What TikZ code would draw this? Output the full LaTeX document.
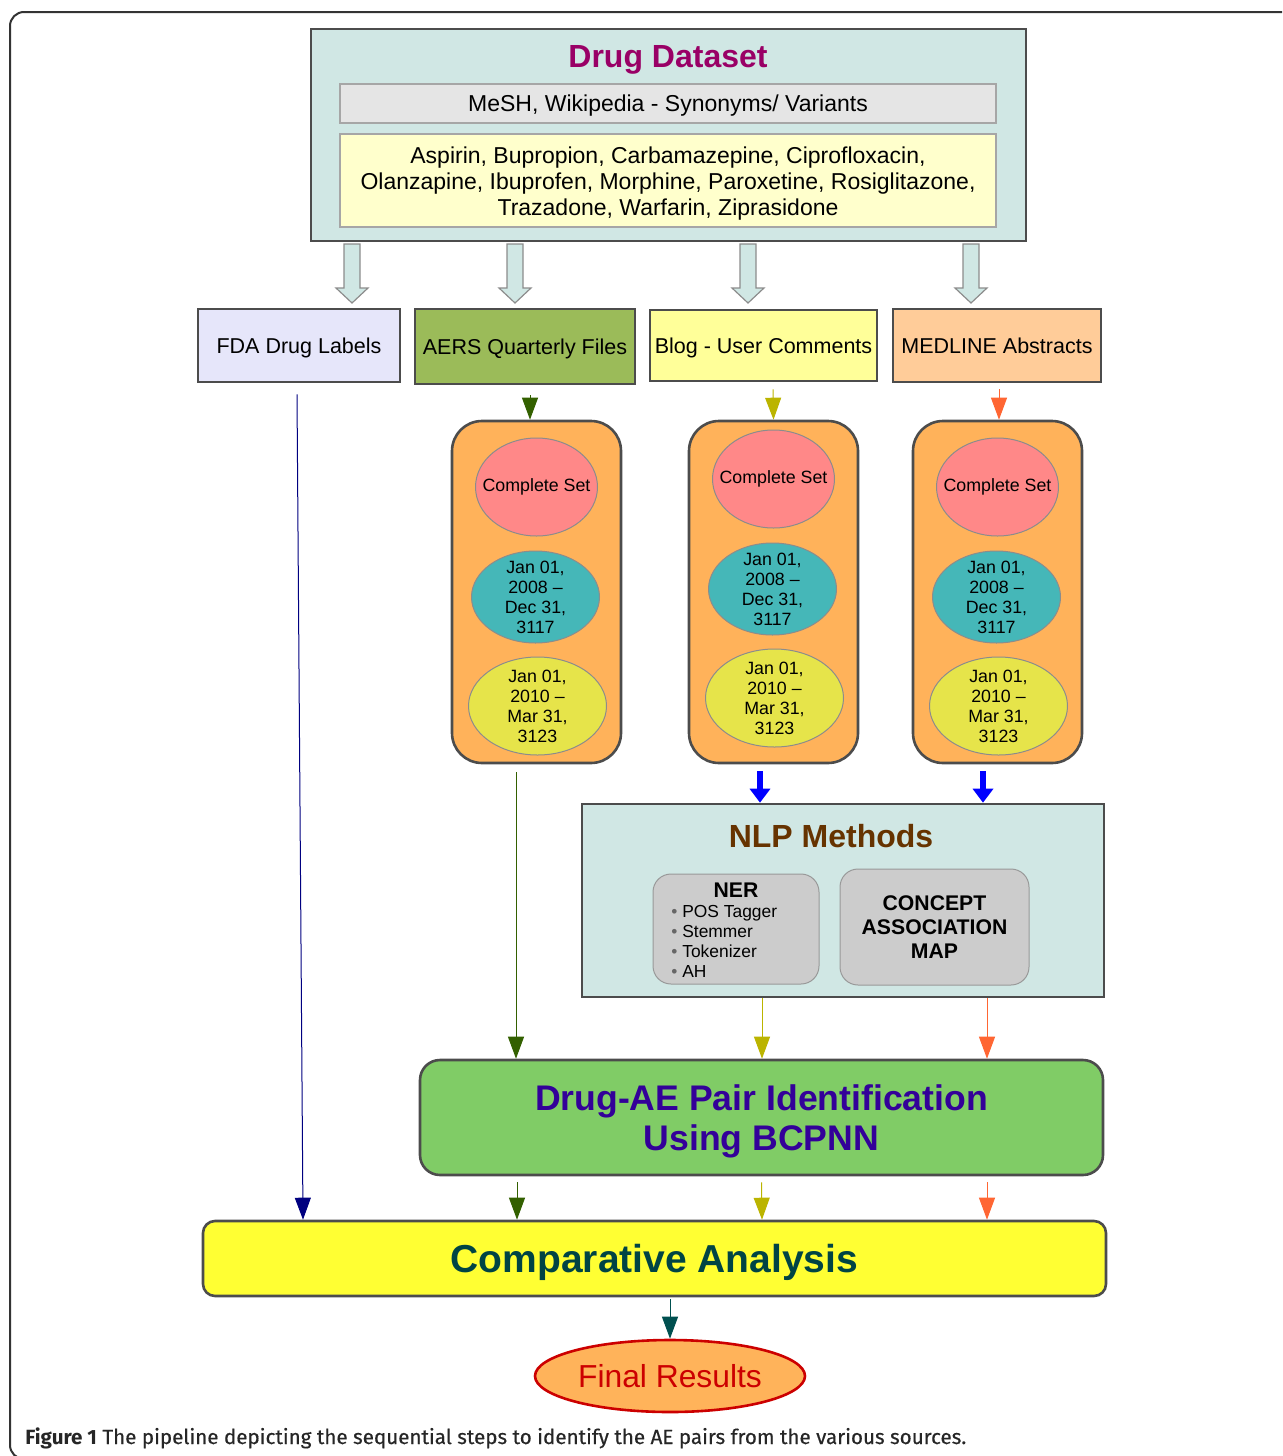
\documentclass[tikz,border=0pt]{standalone}
\usepackage{fontspec}
\setmainfont{Liberation Sans}
\newfontfamily\capfont{Fira Sans}
\newfontfamily\capsemi{Fira Sans}[FakeBold=0.5]
\usetikzlibrary{shapes.geometric,arrows.meta}

\definecolor{dsfill}{RGB}{208,231,228}
\definecolor{dstitle}{RGB}{153,0,102}
\definecolor{listfill}{RGB}{255,255,204}
\definecolor{fdafill}{RGB}{230,230,250}
\definecolor{aersfill}{RGB}{155,187,89}
\definecolor{blogfill}{RGB}{255,255,153}
\definecolor{medfill}{RGB}{255,204,153}
\definecolor{capfill}{RGB}{255,178,90}
\definecolor{setfill}{RGB}{255,136,136}
\definecolor{tealfill}{RGB}{69,183,184}
\definecolor{yelfill}{RGB}{230,228,74}
\definecolor{fdacol}{RGB}{0,0,128}
\definecolor{aerscol}{RGB}{51,96,0}
\definecolor{blogcol}{RGB}{187,180,0}
\definecolor{medcol}{RGB}{255,102,51}
\definecolor{nlptitle}{RGB}{102,51,0}
\definecolor{pairfill}{RGB}{128,204,102}
\definecolor{pairtext}{RGB}{51,0,153}
\definecolor{compfill}{RGB}{255,255,51}
\definecolor{comptext}{RGB}{0,68,68}
\definecolor{rescol}{RGB}{204,0,0}
\definecolor{resfill}{RGB}{255,179,90}
\definecolor{resarrow}{RGB}{0,80,80}

\begin{document}
\begin{tikzpicture}[x=0.5pt,y=-0.5pt,
  box/.style={draw=black!70,line width=1.3pt,inner sep=0pt,align=center},
  src/.style={box,text depth=0pt,font=\fontsize{10.75}{13}\selectfont},
  inbox/.style={draw=black!35,line width=0.6pt,inner sep=0pt,minimum width=328pt,align=center,font=\fontsize{11.5}{13}\selectfont},
  oval/.style={ellipse,draw=black!45,line width=0.5pt,inner sep=0pt},
  datefont/.style={align=center,inner sep=0pt,font=\fontsize{8.9}{10}\selectfont},
  method/.style={draw=black!40,fill=gray!40,line width=0.5pt,rounded corners=9pt},
  blockarr/.style={draw=black!45,fill=dsfill,line width=0.6pt},
  feed/.style={-{Triangle[width=8pt,length=11pt]},line width=0.5pt},
  fat/.style={-{Triangle[width=10pt,length=7pt]},line width=3pt,blue}]

\useasboundingbox (0,0) rectangle (1282,1456);
\begin{scope}
\clip (0,0) rectangle (1282,1456);
\draw[line width=1pt,black!80,rounded corners=7pt] (1300,12) -- (10,12) -- (10,1459) -- (1300,1459);
\end{scope}

\node[box,fill=dsfill,minimum width=357.5pt,minimum height=106pt] (data) at (668.5,135) {};
\node[font=\bfseries\fontsize{16}{18}\selectfont,text=dstitle] (datat) at (668,59.5) {Drug Dataset};
\node[inbox,fill=gray!20,minimum height=19.5pt,text depth=0pt] (syn) at (668,103.5) {MeSH, Wikipedia - Synonyms/ Variants};
\node[inbox,fill=listfill,minimum height=46.5pt] (drugs) at (668,180.5) {};
\node[align=center,inner sep=0pt,font=\fontsize{11.5}{13}\selectfont] (drugst) at (668,183.5)
  {Aspirin, Bupropion, Carbamazepine, Ciprofloxacin,\\Olanzapine, Ibuprofen, Morphine, Paroxetine, Rosiglitazone,\\Trazadone, Warfarin, Ziprasidone};

\foreach \x in {352,515,748,971}
  \draw[blockarr] (\x-8,244) -- (\x+8,244) -- (\x+8,288) -- (\x+16,288) -- (\x,303) -- (\x-16,288) -- (\x-8,288) -- cycle;

\node[src,fill=fdafill,minimum width=101pt,minimum height=36.5pt] (fda) at (299,345.5) {FDA Drug Labels};
\node[src,fill=aersfill,minimum width=110pt,minimum height=37.5pt] (aers) at (525,346.5) {AERS Quarterly Files};
\node[src,fill=blogfill,minimum width=113.5pt,minimum height=35.5pt] (blog) at (763.5,345.5) {Blog - User Comments};
\node[src,fill=medfill,minimum width=104pt,minimum height=36.5pt] (med) at (997,345.5) {MEDLINE Abstracts};

\foreach \n/\x/\y in {a/536.5/487,b/773.5/479,c/997.5/487}{
  \node[box,fill=capfill,rounded corners=15pt,minimum width=84.5pt,minimum height=171pt] (cap\n) at (\x,592) {};
  \node[oval,fill=setfill,minimum width=61pt,minimum height=49pt] (set\n) at (\x,\y) {};
  \node[datefont] (sett\n) at (set\n) {Complete Set};
  \node[oval,fill=tealfill,minimum width=64pt,minimum height=46pt] (early\n) at (\x-1,\y+110) {};
  \node[datefont] (earlyt\n) at (early\n) {Jan 01,\\2008 --\\Dec 31,\\3117};
  \node[oval,fill=yelfill,minimum width=69pt,minimum height=49pt] (late\n) at (\x+1,\y+219) {};
  \node[datefont] (latet\n) at (late\n) {Jan 01,\\2010 --\\Mar 31,\\3123};
}

\draw[feed,aerscol] ([xshift=2.5pt,yshift=-5pt]aers.south) -- ([xshift=-3.25pt]capa.north);
\draw[feed,blogcol] ([xshift=4.75pt,yshift=-3.5pt]blog.south) -- (capb.north);
\draw[feed,medcol] ([xshift=1pt,yshift=-3pt]med.south) -- ([xshift=0.75pt]capc.north);

\node[box,fill=dsfill,minimum width=261pt,minimum height=96.5pt] (nlp) at (843,900.5) {};
\node[font=\bfseries\fontsize{16}{18}\selectfont,text=nlptitle] (nlpt) at (831,836) {NLP Methods};
\node[method,minimum width=83pt,minimum height=55pt] (ner) at (736,929) {};
\node[font=\bfseries\fontsize{10.6}{12}\selectfont,inner sep=0pt] (nert) at (736,890) {NER};
\node[anchor=north west,align=left,inner sep=0pt,font=\fontsize{8.7}{10}\selectfont] (nerl) at (671,905)
  {\textcolor{black!60}{•} POS Tagger\\\textcolor{black!60}{•} Stemmer\\\textcolor{black!60}{•} Tokenizer\\\textcolor{black!60}{•} AH};
\node[method,minimum width=94.5pt,minimum height=58pt,align=center,font=\bfseries\fontsize{10.6}{12}\selectfont] (cam) at (934.5,927) {CONCEPT\\ASSOCIATION\\MAP};

\draw[fat] ([xshift=-6.75pt,yshift=-3.5pt]capb.south) -- ([xshift=-41.5pt]nlp.north);
\draw[fat] ([xshift=-7.25pt,yshift=-3.5pt]capc.south) -- ([xshift=70pt]nlp.north);

\node[box,fill=pairfill,rounded corners=10pt,minimum width=341.5pt,minimum height=57.5pt] (pair) at (761.5,1117.5) {};
\node[align=center,inner sep=0pt,text=pairtext,font=\bfseries\fontsize{17.8}{20}\selectfont] (pairt) at (761.5,1121.5) {Drug-AE Pair Identification\\Using BCPNN};

\draw[feed,aerscol] ([xshift=-10.25pt,yshift=-4pt]capa.south) -- ([xshift=-122.75pt]pair.north);
\draw[feed,blogcol] ([xshift=-40.5pt]nlp.south) -- ([xshift=0.25pt]pair.north);
\draw[feed,medcol] ([xshift=72pt]nlp.south) -- ([xshift=112.75pt]pair.north);

\node[box,fill=compfill,rounded corners=6pt,minimum width=451.5pt,minimum height=37.5pt,text depth=0pt,text=comptext,font=\bfseries\fontsize{19.5}{22}\selectfont] (comp) at (654.5,1258.5) {Comparative Analysis};

\draw[feed,fdacol] ([xshift=-1pt,yshift=-5.5pt]fda.south) -- ([xshift=-175.75pt]comp.north);
\draw[feed,aerscol] ([xshift=-122.25pt,yshift=-3pt]pair.south) -- ([xshift=-68.75pt]comp.north);
\draw[feed,blogcol] ([yshift=-3pt]pair.south) -- ([xshift=53.75pt]comp.north);
\draw[feed,medcol] ([xshift=112.75pt,yshift=-3pt]pair.south) -- ([xshift=166.25pt]comp.north);

\node[ellipse,draw=rescol,line width=1.3pt,fill=resfill,minimum width=135pt,minimum height=36pt,inner sep=0pt,text=rescol,font=\fontsize{15.9}{18}\selectfont] (res) at (670,1376) {Final Results};
\draw[feed,resarrow] ([xshift=7.75pt,yshift=-1pt]comp.south) -- (res.north);

\node[anchor=base west,inner sep=0pt,text=black!85,font=\capsemi\fontsize{10.3}{12}\selectfont] (caption) at (25,1444)
  {{\capfont\bfseries Figure 1} The pipeline depicting the sequential steps to identify the AE pairs from the various sources.};
\end{tikzpicture}
\end{document}
